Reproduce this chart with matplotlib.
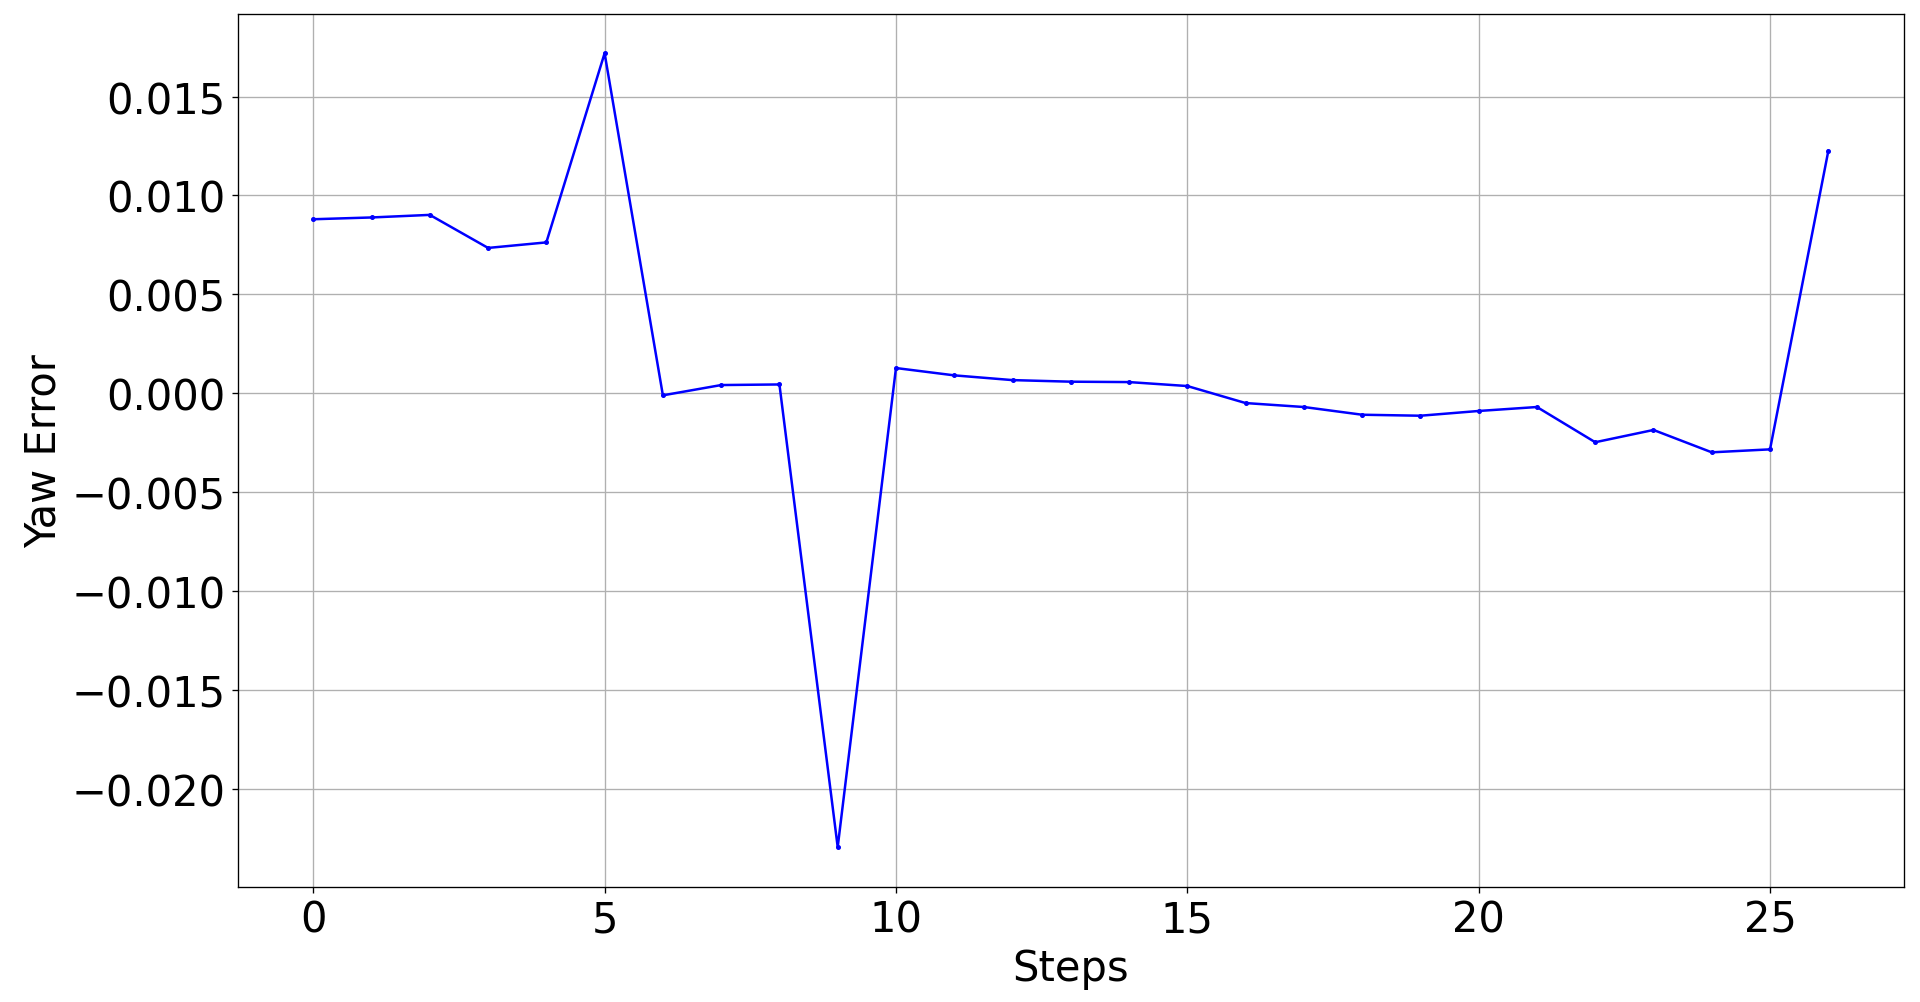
import numpy as np
import matplotlib
matplotlib.use('Agg')
import matplotlib.pyplot as plt

# Gierwinkel-Fehler pro Schritt
steps = np.arange(27)
yaw_error = [0.00880, 0.00889, 0.00902, 0.00735, 0.00763, 0.01719,
             -0.00010, 0.00042, 0.00045, -0.02293, 0.00128, 0.00091,
             0.00067, 0.00059, 0.00057, 0.00037, -0.00049, -0.00069,
             -0.00108, -0.00113, -0.00089, -0.00069, -0.00247, -0.00185,
             -0.00298, -0.00283, 0.01225]

fig = plt.figure(figsize=(16, 1003 / 120), dpi=120)
ax = fig.add_axes([0.1237, 0.1149, 0.8680, 0.8706])

ax.plot(steps, yaw_error, color='blue', marker='.', markersize=4, linewidth=1.5)

ax.set_xlabel('Steps', fontsize=25)
ax.set_ylabel('Yaw Error', fontsize=25)
ax.tick_params(labelsize=25)
ax.grid(True)

fig.savefig('out.png', dpi=120)
